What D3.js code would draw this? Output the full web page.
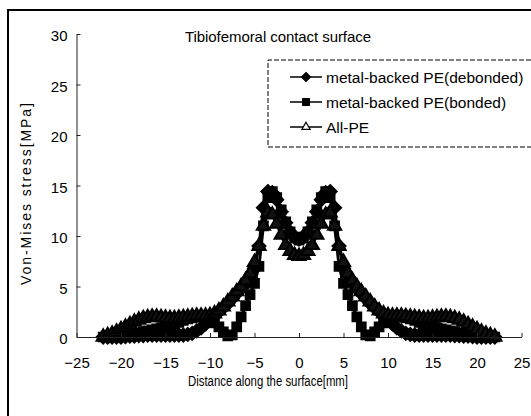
<!DOCTYPE html>
<html>
<head>
<meta charset="utf-8">
<script src="https://cdn.jsdelivr.net/npm/d3@7"></script>
<style>
  html, body { margin: 0; padding: 0; background: #fff; overflow: hidden; }
  svg { display: block; font-family: Arial, "Liberation Sans", sans-serif; }
</style>
</head>
<body>
<svg></svg>
<script>
// distance along the surface [mm]
const distance = [
  -22, -21.5, -21, -20.5, -20, -19.5, -19, -18.5, -18, -17.5, -17, -16.5, -16, -15.5, -15,
  -14.5, -14, -13.5, -13, -12.5, -12, -11.5, -11, -10.5, -10, -9.5, -9, -8.5, -8, -7.5,
  -7, -6.5, -6, -5.5, -5, -4.5, -4, -3.5, -3, -2.5, -2, -1.5, -1, -0.5, 0,
  0.5, 1, 1.5, 2, 2.5, 3, 3.5, 4, 4.5, 5, 5.5, 6, 6.5, 7, 7.5,
  8, 8.5, 9, 9.5, 10, 10.5, 11, 11.5, 12, 12.5, 13, 13.5, 14, 14.5, 15,
  15.5, 16, 16.5, 17, 17.5, 18, 18.5, 19, 19.5, 20, 20.5, 21, 21.5, 22
];

// von-mises stress [MPa]
const debonded = [
  0, 0, 0, 0, 0, 0.05, 0.1, 0.1, 0.15, 0.15, 0.2, 0.2, 0.2, 0.2, 0.2,
  0.2, 0.2, 0.2, 0.2, 0.25, 0.35, 0.6, 0.9, 1.3, 1.7, 2.1, 2.5, 2.9, 3.3, 3.8,
  4.3, 4.8, 5.3, 5.9, 6.8, 9.0, 12.8, 14.4, 14.3, 13.6, 12.4, 11.3, 10.4, 9.9, 9.7,
  9.9, 10.4, 11.3, 12.4, 13.6, 14.3, 14.4, 12.8, 9.0, 6.8, 5.9, 5.3, 4.8, 4.3, 3.8,
  3.3, 2.9, 2.5, 2.1, 1.7, 1.3, 0.9, 0.6, 0.35, 0.25, 0.2, 0.2, 0.2, 0.2, 0.2,
  0.2, 0.2, 0.2, 0.2, 0.15, 0.15, 0.1, 0.1, 0.05, 0, 0, 0, 0, 0
];

const bonded = [
  0, 0, 0, 0.05, 0.1, 0.15, 0.2, 0.3, 0.4, 0.5, 0.6, 0.7, 0.8, 0.9, 1.0,
  1.15, 1.3, 1.45, 1.65, 1.8, 1.9, 2.0, 2.0, 1.9, 1.7, 1.4, 1.0, 0.5, 0.1, 0.2,
  1.0, 2.0, 3.1, 4.2, 5.3, 7.0, 11.0, 13.8, 14.4, 13.8, 12.6, 11.4, 10.4, 9.8, 9.6,
  9.8, 10.4, 11.4, 12.6, 13.8, 14.4, 13.8, 11.0, 7.0, 5.3, 4.2, 3.1, 2.0, 1.0, 0.2,
  0.1, 0.5, 1.0, 1.4, 1.7, 1.9, 2.0, 2.0, 1.9, 1.8, 1.65, 1.45, 1.3, 1.15, 1.0,
  0.9, 0.8, 0.7, 0.6, 0.5, 0.4, 0.3, 0.2, 0.15, 0.1, 0.05, 0, 0, 0
];

const allPE = [
  0, 0.15, 0.3, 0.5, 0.75, 1.0, 1.25, 1.5, 1.7, 1.85, 1.95, 2.0, 2.0, 1.95, 1.9,
  1.85, 1.85, 1.9, 1.95, 2.0, 2.05, 2.1, 2.1, 2.1, 2.15, 2.3, 2.6, 3.0, 3.5, 4.0,
  4.5, 5.0, 5.6, 6.3, 7.4, 9.0, 11.0, 12.3, 12.1, 11.2, 10.1, 9.1, 8.5, 8.1, 8.0,
  8.1, 8.5, 9.1, 10.1, 11.2, 12.1, 12.3, 11.0, 9.0, 7.4, 6.3, 5.6, 5.0, 4.5, 4.0,
  3.5, 3.0, 2.6, 2.3, 2.15, 2.1, 2.1, 2.1, 2.05, 2.0, 1.95, 1.9, 1.85, 1.85, 1.9,
  1.95, 2.0, 2.0, 1.95, 1.85, 1.7, 1.5, 1.25, 1.0, 0.75, 0.5, 0.3, 0.15, 0
];

const seriesNames = ['metal-backed PE(debonded)', 'metal-backed PE(bonded)', 'All-PE'];
const xTicks = [-25, -20, -15, -10, -5, 0, 5, 10, 15, 20, 25];
const yTicks = [0, 5, 10, 15, 20, 25, 30];

const width = 531;
const height = 416;

const svg = d3.select('svg');
let xScale;
let yScale;

// square turned 45deg, same width and height
const diamond = {
  draw(ctx, size) {
    const r = Math.sqrt(size / 2);
    ctx.moveTo(0, -r);
    ctx.lineTo(r, 0);
    ctx.lineTo(0, r);
    ctx.lineTo(-r, 0);
    ctx.closePath();
  }
};

// plot marks come out solid in the printed figure, the legend keeps the open triangle
const styles = [
  { values: debonded, symbol: diamond, size: 84, legendSize: 40, fill: '#000', legendFill: '#000' },
  { values: bonded, symbol: d3.symbolSquare, size: 76, legendSize: 44, fill: '#000', legendFill: '#000' },
  { values: allPE, symbol: d3.symbolTriangle, size: 76, legendSize: 30, fill: '#111', legendFill: '#fff' }
];

const drawCanvas = () => {
  svg.attr('width', width).attr('height', height);
  svg.append('rect').attr('width', width).attr('height', height).attr('fill', '#fff');

  // frame around the figure, only top and left fall inside the picture
  svg.append('path')
     .attr('d', 'M8,' + height + 'V10H' + width)
     .attr('fill', 'none')
     .attr('stroke', '#000')
     .attr('stroke-width', 2);
};

const generateScales = () => {
  xScale = d3.scaleLinear().domain([-25, 25]).range([76.5, 521.5]);
  yScale = d3.scaleLinear().domain([0, 30]).range([337, 34]);
};

const generateAxis = () => {
  const xAxis = d3.axisBottom(xScale)
                  .tickValues(xTicks)
                  .tickSizeInner(-4)
                  .tickSizeOuter(0)
                  .tickPadding(20);

  const yAxis = d3.axisLeft(yScale)
                  .tickValues(yTicks)
                  .tickSizeInner(-4)
                  .tickSizeOuter(0)
                  .tickPadding(9);

  const gx = svg.append('g')
     .attr('id', 'x-axis')
     .attr('transform', 'translate(0,' + yScale(0) + ')')
     .call(xAxis);

  const gy = svg.append('g')
     .attr('id', 'y-axis')
     .attr('transform', 'translate(' + xScale(-25) + ',0)')
     .call(yAxis);

  [gx, gy].forEach(g => {
    g.selectAll('path, line').attr('stroke', '#222').attr('stroke-width', 1);
    g.selectAll('text')
     .attr('fill', '#000')
     .style('font-size', '15px')
     .style('font-family', 'Arial, "Liberation Sans", sans-serif');
  });
  gy.selectAll('text').attr('dy', '0.45em');

  svg.append('text')
     .attr('x', 188).attr('y', 386)
     .attr('textLength', 160)
     .attr('lengthAdjust', 'spacingAndGlyphs')
     .style('font-size', '14px')
     .text('Distance along the surface[mm]');

  svg.append('text')
     .attr('transform', 'translate(31,194) rotate(-90)')
     .attr('text-anchor', 'middle')
     .attr('textLength', 182)
     .style('font-size', '14px')
     .text('Von-Mises stress[MPa]');

  svg.append('text')
     .attr('x', 185).attr('y', 42)
     .attr('textLength', 186)
     .style('font-size', '15px')
     .text('Tibiofemoral contact surface');
};

const drawSeries = () => {
  const line = d3.line()
                 .x((d, i) => xScale(distance[i]))
                 .y(d => yScale(d));

  styles.forEach(s => {
    const g = svg.append('g');
    g.append('path')
     .datum(s.values)
     .attr('d', line)
     .attr('fill', 'none')
     .attr('stroke', '#000')
     .attr('stroke-width', 3);

    g.selectAll('path.mark')
     .data(s.values)
     .enter()
     .append('path')
     .attr('class', 'mark')
     .attr('d', d3.symbol().type(s.symbol).size(s.size))
     .attr('transform', (d, i) => 'translate(' + xScale(distance[i]) + ',' + yScale(d) + ')')
     .attr('fill', s.fill)
     .attr('stroke', '#000')
     .attr('stroke-width', 2);
  });
};

const drawLegend = () => {
  // dashed box runs past the right edge of the picture
  svg.append('path')
     .attr('d', 'M' + width + ',60H268V147H' + width)
     .attr('fill', '#fff')
     .attr('stroke', '#000')
     .attr('stroke-width', 1)
     .attr('stroke-dasharray', '5,2');

  const rows = [77, 102, 127];
  styles.forEach((s, i) => {
    svg.append('line')
       .attr('x1', 290).attr('x2', 322)
       .attr('y1', rows[i]).attr('y2', rows[i])
       .attr('stroke', '#000')
       .attr('stroke-width', 1.5);
    svg.append('path')
       .attr('d', d3.symbol().type(s.symbol).size(s.legendSize)())
       .attr('transform', 'translate(306,' + rows[i] + ')')
       .attr('fill', s.legendFill)
       .attr('stroke', '#000')
       .attr('stroke-width', 1.2);
    svg.append('text')
       .attr('x', 326).attr('y', rows[i] + 5.5)
       .style('font-size', '15.5px')
       .text(seriesNames[i]);
  });
};

drawCanvas();
generateScales();
drawSeries();
generateAxis();
drawLegend();
</script>
</body>
</html>
